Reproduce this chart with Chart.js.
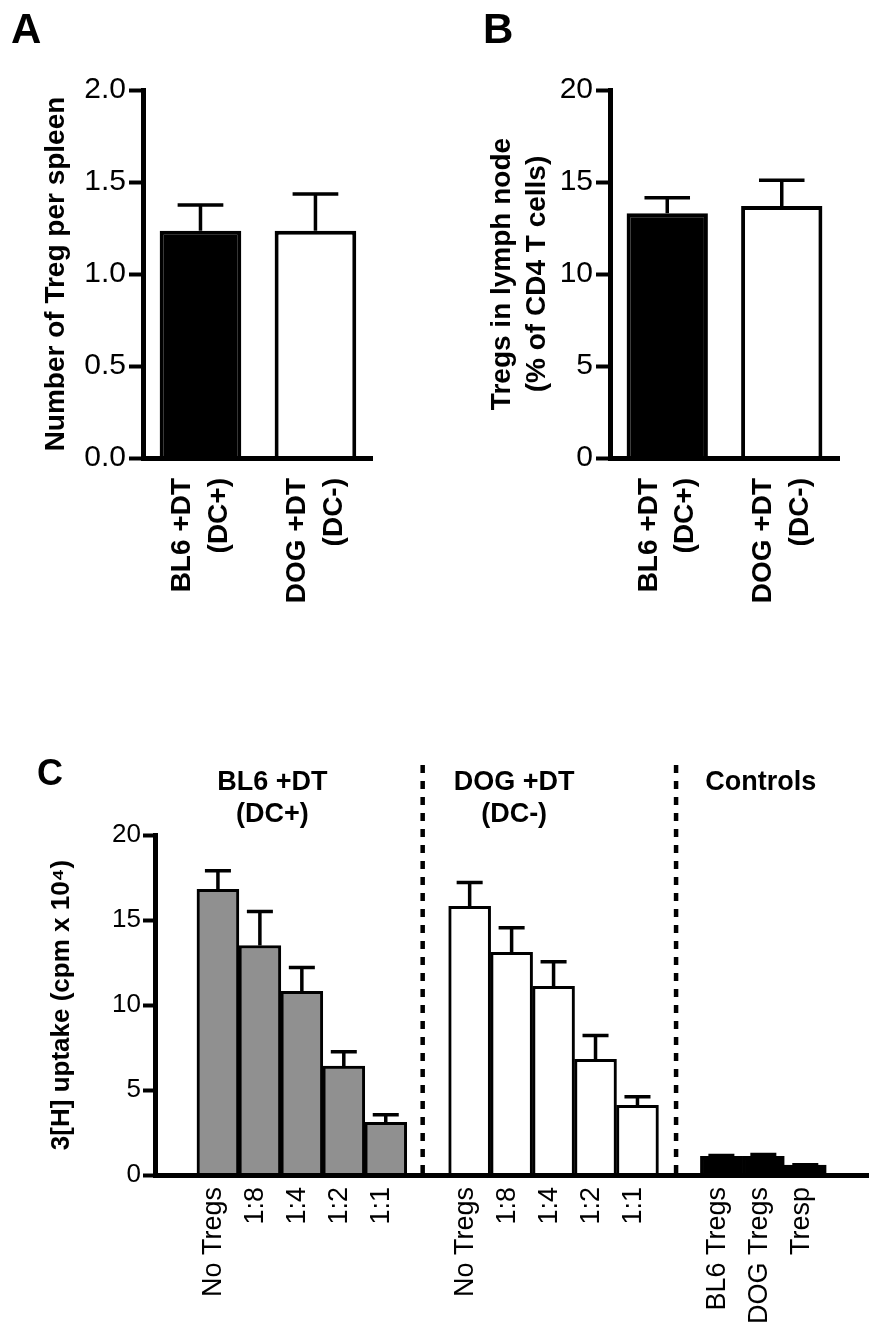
<!DOCTYPE html>
<html>
<head>
<meta charset="utf-8">
<script src="https://cdn.jsdelivr.net/npm/chart.js@4.4.1/dist/chart.umd.min.js"></script>
<style>
  body { margin: 0; background: #fff; }
  .panel { position: absolute; }
</style>
</head>
<body>
<div class="panel" style="left:0;top:0"><canvas id="chartA" width="420" height="660"></canvas></div>
<div class="panel" style="left:430px;top:0"><canvas id="chartB" width="462" height="660"></canvas></div>
<div class="panel" style="left:0;top:740px"><canvas id="chartC" width="892" height="598"></canvas></div>
<script>
// --- DATA ---
const groupLabels = [['BL6 +DT', '(DC+)'], ['DOG +DT', '(DC-)']];
const spleenMeans = [1.235, 1.235];
const spleenSem = [0.14, 0.20];
const lymphMeans = [13.3, 13.7];
const lymphSem = [0.85, 1.4];

const ratioLabels = ['No Tregs', '1:8', '1:4', '1:2', '1:1'];
const bl6Uptake = [16.8, 13.5, 10.8, 6.4, 3.1];
const bl6UptakeSem = [1.1, 2.0, 1.4, 0.85, 0.45];
const dogUptake = [15.8, 13.1, 11.1, 6.8, 4.1];
const dogUptakeSem = [1.4, 1.45, 1.45, 1.4, 0.5];
const controlLabels = ['BL6 Tregs', 'DOG Tregs', 'Tresp'];
const controlUptake = [1.1, 1.1, 0.58];
const controlUptakeSem = [0.05, 0.1, 0.03];

const FONT = "'Liberation Sans', Arial, sans-serif";
Chart.defaults.font.family = FONT;
Chart.defaults.color = '#000';

// --- PLUGINS ---
// upward-only error bars with a cap
const errorBars = {
    id: 'errorBars',
    afterDatasetsDraw(chart, args, opts) {
        const ctx = chart.ctx;
        const y = chart.scales.y;
        chart.data.datasets.forEach((ds, di) => {
            const meta = chart.getDatasetMeta(di);
            meta.data.forEach((bar, i) => {
                const v = ds.data[i];
                const e = ds.errors ? ds.errors[i] : null;
                if (v == null || e == null) return;
                const top = y.getPixelForValue(v + e);
                const half = bar.width * opts.cap / 2;
                ctx.save();
                ctx.strokeStyle = '#000';
                ctx.lineWidth = opts.width;
                ctx.beginPath();
                ctx.moveTo(bar.x, bar.y);
                ctx.lineTo(bar.x, top);
                ctx.moveTo(bar.x - half, top);
                ctx.lineTo(bar.x + half, top);
                ctx.stroke();
                ctx.restore();
            });
        });
    }
};

// panel letter, headers and dotted dividers
const decor = {
    id: 'decor',
    afterDraw(chart, args, opts) {
        const ctx = chart.ctx;
        const x = chart.scales.x;
        ctx.save();
        ctx.fillStyle = '#000';
        ctx.textBaseline = 'alphabetic';
        ctx.textAlign = 'left';
        ctx.font = opts.letterFont;
        ctx.fillText(opts.letter, opts.letterX, opts.letterY);

        (opts.dividers || []).forEach(idx => {
            const px = x.getPixelForValue(idx);
            ctx.strokeStyle = '#000';
            ctx.lineWidth = 4.5;
            ctx.setLineDash([8, 8]);
            ctx.beginPath();
            ctx.moveTo(px, opts.dividerTop);
            ctx.lineTo(px, chart.chartArea.bottom);
            ctx.stroke();
        });
        ctx.setLineDash([]);

        ctx.textAlign = 'center';
        ctx.font = opts.headerFont;
        (opts.headers || []).forEach(h => {
            const px = x.getPixelForValue(h.at);
            h.lines.forEach((line, li) => ctx.fillText(line, px, opts.headerY + li * 32));
        });
        ctx.restore();
    }
};

function smallPanel(id, means, sems, yMax, step, decimals, title, titlePad, yWidth, rightPad, letter, letterX) {
    new Chart(document.getElementById(id), {
        type: 'bar',
        data: {
            labels: groupLabels,
            datasets: [{
                data: means,
                errors: sems,
                backgroundColor: ['#000', '#fff'],
                borderColor: '#000',
                borderWidth: 4,
                categoryPercentage: 1,
                barPercentage: 0.71
            }]
        },
        options: {
            responsive: false,
            animation: false,
            events: [],
            layout: { padding: { top: 90, right: rightPad, left: 0, bottom: 0 } },
            plugins: {
                legend: { display: false },
                tooltip: { enabled: false },
                errorBars: { cap: 0.56, width: 3.5 },
                decor: { letter: letter, letterX: letterX, letterY: 43, letterFont: 'bold 42px ' + FONT }
            },
            scales: {
                x: {
                    grid: { display: false, drawTicks: false },
                    border: { color: '#000', width: 5, z: 1 },
                    ticks: {
                        maxRotation: 90, minRotation: 90, autoSkip: false, padding: 20, labelOffset: -18,
                        font: { size: 28, weight: 'bold', lineHeight: 1.3 }
                    },
                    afterFit(s) { s.height = 202; }
                },
                y: {
                    min: 0, max: yMax,
                    border: { color: '#000', width: 5, z: 1 },
                    grid: { drawOnChartArea: false, tickLength: 14, tickWidth: 4, tickColor: '#000' },
                    ticks: {
                        stepSize: step, padding: 3,
                        font: { size: 30 },
                        callback: v => v.toFixed(decimals)
                    },
                    title: {
                        display: true, text: title, padding: { top: titlePad, bottom: 0 },
                        font: { size: 28, weight: 'bold', lineHeight: 1.25 }
                    },
                    afterFit(s) { s.width = yWidth; }
                }
            }
        },
        plugins: [errorBars, decor]
    });
}

smallPanel('chartA', spleenMeans, spleenSem, 2, 0.5, 1, 'Number of Treg per spleen', 39, 143, 47, 'A', 11);
smallPanel('chartB', lymphMeans, lymphSem, 20, 5, 0,
    ['Tregs in lymph node', '(% of CD4 T cells)'], 55, 180, 53, 'B', 53);

// --- PANEL C ---
const slotLabels = ['', ...ratioLabels, '', ...ratioLabels, '', ...controlLabels, ''];
function place(values, start) {
    const out = new Array(slotLabels.length).fill(null);
    values.forEach((v, i) => { out[start + i] = v; });
    return out;
}
const dogStart = ratioLabels.length + 2;
const ctrlStart = dogStart + ratioLabels.length + 1;

const barStyle = { borderColor: '#000', borderWidth: 3, grouped: false, categoryPercentage: 1, barPercentage: 1 };

new Chart(document.getElementById('chartC'), {
    type: 'bar',
    data: {
        labels: slotLabels,
        datasets: [
            Object.assign({ data: place(bl6Uptake, 1), errors: place(bl6UptakeSem, 1), backgroundColor: '#909090' }, barStyle),
            Object.assign({ data: place(dogUptake, dogStart), errors: place(dogUptakeSem, dogStart), backgroundColor: '#fff' }, barStyle),
            Object.assign({ data: place(controlUptake, ctrlStart), errors: place(controlUptakeSem, ctrlStart), backgroundColor: '#000' }, barStyle)
        ]
    },
    options: {
        responsive: false,
        animation: false,
        events: [],
        layout: { padding: { top: 95, right: 12, left: 0, bottom: 0 } },
        plugins: {
            legend: { display: false },
            tooltip: { enabled: false },
            errorBars: { cap: 0.62, width: 3.5 },
            decor: {
                letter: 'C', letterX: 37, letterY: 45, letterFont: 'bold 36px ' + FONT,
                dividers: [5.88, 11.92], dividerTop: 25,
                headerFont: 'bold 27px ' + FONT, headerY: 50,
                headers: [
                    { at: 2.3, lines: ['BL6 +DT', '(DC+)'] },
                    { at: 8.06, lines: ['DOG +DT', '(DC-)'] },
                    { at: 13.94, lines: ['Controls'] }
                ]
            }
        },
        scales: {
            x: {
                grid: { display: false, drawTicks: false },
                border: { color: '#000', width: 5, z: 1 },
                ticks: {
                    maxRotation: 90, minRotation: 90, autoSkip: false, padding: 12, labelOffset: -4,
                    font: { size: 27 }
                },
                afterFit(s) { s.height = 163; }
            },
            y: {
                min: 0, max: 20,
                border: { color: '#000', width: 5, z: 1 },
                grid: { drawOnChartArea: false, tickLength: 12, tickWidth: 4, tickColor: '#000' },
                ticks: { stepSize: 5, padding: 2, font: { size: 26 } },
                title: {
                    display: true, text: '3[H] uptake (cpm x 10\u2074)', padding: { top: 46, bottom: 0 },
                    font: { size: 26, weight: 'bold', lineHeight: 1.2 }
                },
                afterFit(s) { s.width = 155; }
            }
        }
    },
    plugins: [errorBars, decor]
});
</script>
</body>
</html>
